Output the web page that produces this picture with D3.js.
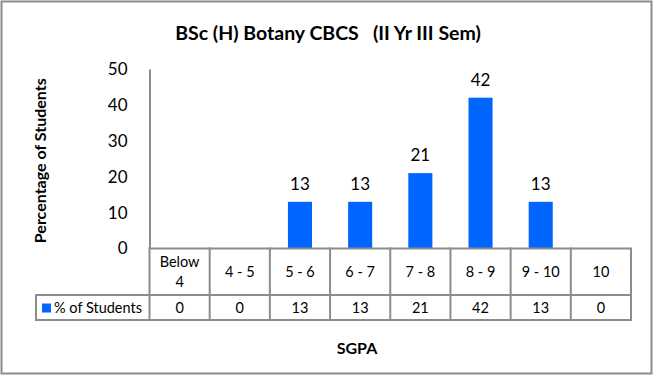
<!DOCTYPE html>
<html>
<head>
<meta charset="utf-8">
<script src="https://cdn.jsdelivr.net/npm/d3@7"></script>
<style>
  body { margin: 0; background: #fff; }
  svg { display: block; font-family: Lato, "Open Sans", sans-serif; }
</style>
</head>
<body>
<svg id="chart" width="656" height="377"></svg>
<script>
// data
const categories = ['Below 4', '4 - 5', '5 - 6', '6 - 7', '7 - 8', '8 - 9', '9 - 10', '10'];
const values = [0, 0, 13, 13, 21, 42, 13, 0];
const yTicks = [0, 10, 20, 30, 40, 50];
const seriesName = '% of Students';
const titleText = 'BSc (H) Botany CBCS   (II Yr III Sem)';
const yTitle = 'Percentage of Students';
const xTitle = 'SGPA';

const barColor = '#0066ff';
const lineColor = '#8c8c8c';

const rows = categories.map((c, i) => ({ cat: c, value: values[i] }));

const svg = d3.select('#chart');

// outer frame
svg.append('rect')
    .attr('x', 1.5).attr('y', 1.5)
    .attr('width', 650).attr('height', 372)
    .attr('fill', '#fff')
    .attr('stroke', lineColor)
    .attr('stroke-width', 2);

const plotLeft = 149.5, plotRight = 631, plotTop = 69, plotBottom = 248.5;
const rowMid = 295, rowBottom = 320, legendLeft = 36;

const x = d3.scaleBand().domain(categories).range([plotLeft, plotRight]);
const xBar = d3.scaleBand().domain(categories).range([plotLeft, plotRight])
    .paddingInner(0.6).paddingOuter(0.3);
const y = d3.scaleLinear().domain([0, 50]).range([plotBottom, plotTop]);

// title
svg.append('text')
    .attr('x', 328).attr('y', 40)
    .attr('text-anchor', 'middle')
    .attr('font-size', 19.5).attr('font-weight', 'bold')
    .attr('fill', '#000')
    .style('white-space', 'pre')
    .text(titleText);

// y axis
const yAxis = svg.append('g')
    .attr('transform', `translate(${plotLeft},0)`)
    .call(d3.axisLeft(y).tickValues(yTicks).tickSize(0).tickSizeOuter(0).tickPadding(22));
yAxis.select('.domain').attr('stroke', lineColor).attr('stroke-width', 2);
yAxis.selectAll('text')
    .attr('font-size', 17)
    .attr('font-family', 'Lato, "Open Sans", sans-serif')
    .attr('fill', '#000');

svg.append('text')
    .attr('transform', `translate(46,${(plotTop + plotBottom) / 2 + 2}) rotate(-90)`)
    .attr('text-anchor', 'middle')
    .attr('font-size', 16).attr('font-weight', 'bold')
    .text(yTitle);

// bars
svg.append('g').selectAll('rect')
    .data(rows)
    .join('rect')
    .attr('x', d => xBar(d.cat))
    .attr('width', xBar.bandwidth())
    .attr('y', d => y(d.value))
    .attr('height', d => y(0) - y(d.value))
    .attr('fill', barColor);

// value labels
svg.append('g').selectAll('text')
    .data(rows.filter(d => d.value > 0))
    .join('text')
    .attr('x', d => x(d.cat) + x.bandwidth() / 2)
    .attr('y', d => y(d.value) - 12)
    .attr('text-anchor', 'middle')
    .attr('font-size', 17)
    .text(d => d.value);

// data table
const table = svg.append('g')
    .attr('stroke', lineColor).attr('stroke-width', 2).attr('fill', 'none');
table.append('line').attr('x1', plotLeft).attr('x2', plotRight).attr('y1', plotBottom).attr('y2', plotBottom);
table.append('line').attr('x1', legendLeft).attr('x2', plotRight).attr('y1', rowMid).attr('y2', rowMid);
table.append('line').attr('x1', legendLeft).attr('x2', plotRight).attr('y1', rowBottom).attr('y2', rowBottom);
table.append('line').attr('x1', legendLeft).attr('x2', legendLeft).attr('y1', rowMid - 1).attr('y2', rowBottom + 1);
table.selectAll('line.col')
    .data(categories.concat(['end']))
    .join('line')
    .attr('class', 'col')
    .attr('x1', (d, i) => i < categories.length ? x(d) : plotRight)
    .attr('x2', (d, i) => i < categories.length ? x(d) : plotRight)
    .attr('y1', plotBottom - 1)
    .attr('y2', rowBottom + 1);

// header cells
const headers = svg.append('g').attr('font-size', 14.5).attr('text-anchor', 'middle');
categories.forEach(c => {
    const parts = c === 'Below 4' ? ['Below', '4'] : [c];
    const cx = x(c) + x.bandwidth() / 2;
    const cy = (plotBottom + rowMid) / 2;
    parts.forEach((p, j) => {
        headers.append('text')
            .attr('x', cx)
            .attr('y', cy + 5 + (j - (parts.length - 1) / 2) * 20)
            .text(p);
    });
});

// value cells
svg.append('g').attr('font-size', 14.5).attr('text-anchor', 'middle')
    .selectAll('text')
    .data(rows)
    .join('text')
    .attr('x', d => x(d.cat) + x.bandwidth() / 2)
    .attr('y', (rowMid + rowBottom) / 2 + 5)
    .text(d => d.value);

// legend cell
svg.append('rect')
    .attr('x', 42).attr('y', 303.5)
    .attr('width', 9).attr('height', 9)
    .attr('fill', barColor);
svg.append('text')
    .attr('x', 54).attr('y', (rowMid + rowBottom) / 2 + 5)
    .attr('font-size', 14.5)
    .text(seriesName);

// x title
svg.append('text')
    .attr('x', 357).attr('y', 354)
    .attr('text-anchor', 'middle')
    .attr('font-size', 16).attr('font-weight', 'bold')
    .text(xTitle);
</script>
</body>
</html>
